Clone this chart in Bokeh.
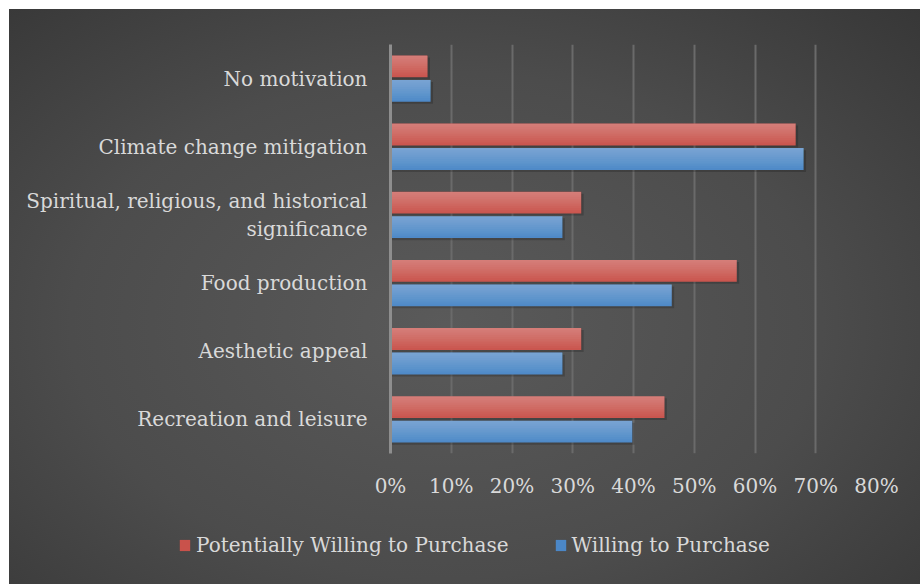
from bokeh.plotting import figure
from bokeh.models import (ColumnDataSource, FactorRange, FixedTicker, NumeralTickFormatter,
                          Legend, LegendItem)
from bokeh.transform import dodge
from bokeh.embed import file_html
from bokeh.resources import INLINE

categories = ["Recreation and leisure", "Aesthetic appeal", "Food production",
              "Spiritual, religious, and historical\nsignificance",
              "Climate change mitigation", "No motivation"]
potentially = [0.451, 0.314, 0.570, 0.314, 0.667, 0.061]
willing = [0.398, 0.283, 0.463, 0.283, 0.680, 0.066]
ticks = [0, 0.1, 0.2, 0.3, 0.4, 0.5, 0.6, 0.7, 0.8]
series_names = ["Potentially Willing to Purchase", "Willing to Purchase"]

FONT = "DejaVu Serif"
TXT = "#d9d9d9"
RED = "#c9524b"
BLUE = "#4b87c7"
GRAD = "radial-gradient(ellipse 75% 80% at 48% 55%, #5a5a5a 0%, #4c4c4c 55%, #363636 100%)"

src = ColumnDataSource(dict(cat=categories, pot=potentially, wil=willing,
                            pot_s=[v + 0.004 for v in potentially],
                            wil_s=[v + 0.004 for v in willing]))

p = figure(width=920, height=500, y_range=FactorRange(factors=categories),
           x_range=(0, 0.8), output_backend="svg", toolbar_location=None,
           min_border_left=390, min_border_right=44, min_border_top=44,
           min_border_bottom=44)
p.styles = {"background": GRAD + " 9px 9px / 911px 575px no-repeat, #ffffff"}
p.border_fill_color = None
p.background_fill_color = None
p.outline_line_color = None

H = 0.32
off = 0.18
# shadows
p.hbar(y=dodge("cat", off - 0.03, range=p.y_range), right="pot_s", left=0, height=H,
       source=src, fill_color="black", fill_alpha=0.18, line_color=None)
p.hbar(y=dodge("cat", -off - 0.03, range=p.y_range), right="wil_s", left=0, height=H,
       source=src, fill_color="black", fill_alpha=0.18, line_color=None)

p.hbar(y=dodge("cat", off, range=p.y_range), right="pot", left=0, height=H,
       source=src, fill_color=RED, line_color=None)
p.hbar(y=dodge("cat", -off, range=p.y_range), right="wil", left=0, height=H,
       source=src, fill_color=BLUE, line_color=None)
# gradient highlights
N = 12
for k in range(N):
    h = H * (N - k) / N
    for o, col in ((off, "pot"), (-off, "wil")):
        p.hbar(y=dodge("cat", o + H / 2 - h / 2, range=p.y_range), right=col, left=0,
               height=h, source=src, fill_color="white", fill_alpha=0.028, line_color=None)

p.xaxis.ticker = FixedTicker(ticks=ticks)
p.xaxis.formatter = NumeralTickFormatter(format="0%")
p.xaxis.axis_line_color = None
p.xaxis.major_tick_line_color = None
p.xaxis.minor_tick_line_color = None
p.xaxis.major_label_standoff = 14
p.xaxis.major_label_text_font = FONT
p.xaxis.major_label_text_font_size = "20px"
p.xaxis.major_label_text_color = TXT

p.yaxis.axis_line_color = "#8e8e8e"
p.yaxis.axis_line_width = 3
p.yaxis.major_tick_line_color = None
p.yaxis.minor_tick_line_color = None
p.yaxis.major_label_standoff = 17
p.yaxis.major_label_text_font = FONT
p.yaxis.major_label_text_font_size = "20px"
p.yaxis.major_label_text_color = TXT

p.xgrid.grid_line_color = "#6a6a6a"
p.xgrid.grid_line_width = 2
p.ygrid.grid_line_color = None

# legend strip (separate root, drawn right below the chart)
lg = figure(width=920, height=84, x_range=(0, 1), y_range=(0, 1),
            output_backend="svg", toolbar_location=None, min_border=0,
            x_axis_type=None, y_axis_type=None)
lg.styles = {"background": GRAD + " 9px -491px / 911px 575px no-repeat, #ffffff"}
lg.border_fill_color = None
lg.background_fill_color = None
lg.outline_line_color = None
lg.grid.visible = False
# legend sample glyphs (kept outside the visible range of this strip)
r1 = lg.hbar(y=[5], right=[5], left=[4], height=0.1, fill_color=RED, line_color=None)
r2 = lg.hbar(y=[5], right=[5], left=[4], height=0.1, fill_color=BLUE, line_color=None)
legend = Legend(items=[LegendItem(label=series_names[0], renderers=[r1]),
                       LegendItem(label=series_names[1], renderers=[r2])],
                orientation="horizontal", location=(178, 27))
legend.label_text_font = FONT
legend.label_text_font_size = "20px"
legend.label_text_color = TXT
legend.glyph_width = 13
legend.glyph_height = 14
legend.label_standoff = 5
legend.spacing = 45
legend.background_fill_alpha = 0
legend.border_line_alpha = 0
legend.margin = 0
legend.padding = 0
lg.add_layout(legend)

open("out.html", "w").write(file_html([p, lg], INLINE))
